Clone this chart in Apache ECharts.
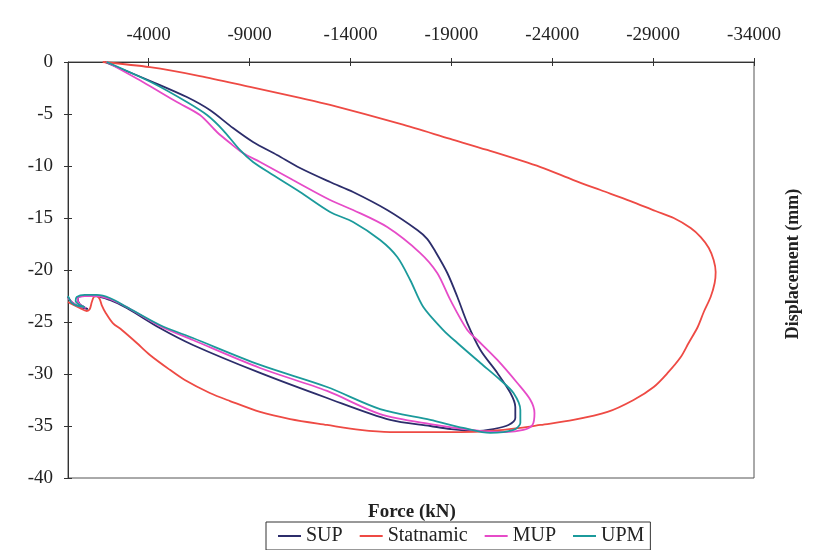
<!DOCTYPE html>
<html>
<head>
<meta charset="utf-8">
<script src="https://cdn.jsdelivr.net/npm/echarts@6/dist/echarts.min.js"></script>
<style>
  html, body { margin: 0; padding: 0; background: #fff; }
  #chart { width: 833px; height: 550px; }
</style>
</head>
<body>
<div id="chart"></div>
<script>
// axis ranges (force runs right to more negative)
const forceMin = -34000
const forceMax = 0
const forceStep = 5000
const dispMin = -40
const dispMax = 0
const dispStep = 5

const seriesNames = ['SUP', 'Statnamic', 'MUP', 'UPM']
const seriesColors = ['#2c2d6b', '#ee4a44', '#e64bc8', '#1b9a9b']

// [force kN, displacement mm] in time order
const supData = [
  [-1820, 0], [-4200, -1.92], [-5890, -3.37], [-7030, -4.62], [-8180, -6.35],
  [-9170, -7.69], [-10360, -8.94], [-11500, -10.19], [-12990, -11.54], [-14130, -12.5],
  [-15820, -14.23], [-17310, -16.15], [-17800, -17.0], [-18200, -18.2], [-18800, -20.29], [-19300, -22.6],
  [-19790, -25.1], [-20440, -27.69], [-21280, -29.9], [-21930, -31.83], [-22170, -33.17],
  [-22170, -34.23], [-21830, -34.9], [-21080, -35.29], [-20190, -35.48], [-18950, -35.29],
  [-17960, -35.0], [-15970, -34.42], [-12840, -32.31], [-9520, -29.9], [-6190, -27.21],
  [-4550, -25.58], [-2910, -23.65], [-2070, -22.88], [-1330, -22.5], [-680, -22.5],
  [-480, -22.69], [-580, -23.27], [-980, -23.75], [-580, -23.56], [-180, -23.08], [0, -22.6]
]

const statnamicData = [
  [-1720, 0], [-4060, -0.5], [-6540, -1.35], [-9020, -2.4], [-11500, -3.46],
  [-12990, -4.13], [-16470, -5.96], [-18950, -7.4], [-20780, -8.46], [-23420, -10.1],
  [-25050, -11.35], [-26390, -12.31], [-27880, -13.37], [-29120, -14.33], [-30020, -15.0],
  [-30860, -15.96], [-31360, -16.83], [-31760, -17.88], [-32000, -19.04], [-32100, -20.19],
  [-32050, -21.25], [-31850, -22.6], [-31510, -24.04], [-31210, -25.48], [-30760, -27.02],
  [-30370, -28.37], [-29720, -29.9], [-29030, -31.25], [-28030, -32.5], [-26740, -33.65],
  [-25050, -34.42], [-23420, -34.9], [-22420, -35.19], [-20930, -35.48], [-19440, -35.58],
  [-17960, -35.58], [-15970, -35.58], [-14480, -35.38], [-12840, -34.9], [-11010, -34.33],
  [-9520, -33.65], [-8030, -32.6], [-7030, -31.83], [-5790, -30.58], [-5050, -29.6],
  [-4060, -28.17], [-3410, -27.02], [-2670, -25.77], [-2220, -25.1], [-1870, -24.13],
  [-1670, -23.37], [-1570, -22.79], [-1430, -22.5], [-1280, -22.6], [-1180, -23.08],
  [-1080, -23.75], [-930, -23.94], [-580, -23.65], [-180, -23.27], [0, -23.08]
]

const mupData = [
  [-1920, 0], [-3710, -1.92], [-5400, -3.85], [-6540, -5.1], [-7380, -6.73],
  [-8030, -7.79], [-8670, -8.75], [-9520, -9.62], [-11150, -11.35], [-12990, -13.27],
  [-14130, -14.23], [-15820, -15.87], [-17460, -18.37], [-18300, -20.29], [-18950, -22.88],
  [-19790, -25.77], [-20290, -26.73], [-21280, -28.65], [-22270, -30.87], [-22920, -32.5],
  [-23120, -33.75], [-23020, -34.9], [-22570, -35.38], [-21680, -35.58], [-20440, -35.48],
  [-17960, -34.81], [-15470, -33.85], [-12840, -31.63], [-9520, -29.42], [-6190, -26.73],
  [-4550, -25.38], [-2910, -23.56], [-2070, -22.79], [-1430, -22.5], [-830, -22.5],
  [-480, -22.69], [-530, -23.17], [-880, -23.65], [-480, -23.46], [-180, -23.08], [0, -22.69]
]

const upmData = [
  [-1920, 0], [-4200, -2.02], [-5890, -3.85], [-6890, -5.1], [-7680, -6.54],
  [-8520, -8.46], [-9170, -9.62], [-10160, -10.87], [-11500, -12.5], [-12990, -14.42],
  [-14130, -15.38], [-15470, -17.12], [-16320, -18.75], [-16960, -20.96], [-17610, -23.56],
  [-18600, -25.77], [-19300, -27.02], [-20440, -28.94], [-21430, -30.58], [-22080, -31.83],
  [-22420, -33.46], [-22420, -34.71], [-22080, -35.38], [-20930, -35.67], [-19590, -35.19],
  [-17960, -34.42], [-15470, -33.37], [-12840, -31.25], [-9520, -29.13], [-6190, -26.54],
  [-4550, -25.29], [-2910, -23.56], [-2070, -22.69], [-1430, -22.4], [-830, -22.4],
  [-430, -22.6], [-380, -22.98], [-580, -23.37], [-830, -23.56], [-480, -23.46],
  [-180, -23.17], [0, -22.5]
]

const allData = [supData, statnamicData, mupData, upmData]

const serif = '"Liberation Serif", "DejaVu Serif", serif'
const axisColor = '#333'

const chart = echarts.init(document.getElementById('chart'), null, { renderer: 'canvas', width: 833, height: 550 })

const option = {
  animation: false,
  backgroundColor: '#fff',
  grid: {
    left: 68, top: 62, width: 686, height: 416,
    show: true, borderColor: '#555', borderWidth: 1, backgroundColor: 'transparent'
  },
  xAxis: [
    {
      type: 'value', position: 'top', inverse: true,
      min: forceMin, max: forceMax, interval: forceStep,
      axisLine: { show: true, lineStyle: { color: axisColor, width: 1 } },
      axisTick: { show: true, inside: false, length: 4, lineStyle: { color: axisColor } },
      axisLabel: {
        fontFamily: serif, fontSize: 19, color: '#222', margin: 17,
        showMaxLabel: false, formatter: v => String(v)
      },
      splitLine: { show: false }
    },
    {
      type: 'value', position: 'top', inverse: true,
      min: forceMin, max: forceMax, interval: forceStep,
      axisLine: { show: false },
      axisTick: { show: true, inside: true, length: 4, lineStyle: { color: axisColor } },
      axisLabel: { show: false },
      splitLine: { show: false }
    }
  ],
  yAxis: [
    {
      type: 'value', position: 'left',
      min: dispMin, max: dispMax, interval: dispStep,
      axisLine: { show: true, lineStyle: { color: axisColor, width: 1 } },
      axisTick: { show: true, inside: false, length: 4, lineStyle: { color: axisColor } },
      axisLabel: { fontFamily: serif, fontSize: 19, color: '#222', margin: 15 },
      splitLine: { show: false }
    },
    {
      type: 'value', position: 'left',
      min: dispMin, max: dispMax, interval: dispStep,
      axisLine: { show: false },
      axisTick: { show: true, inside: true, length: 4, lineStyle: { color: axisColor } },
      axisLabel: { show: false },
      splitLine: { show: false }
    }
  ],
  legend: {
    data: seriesNames,
    left: 266, top: 522,
    orient: 'horizontal',
    icon: 'rect', itemWidth: 23, itemHeight: 2, itemGap: 17,
    padding: [4, 6, 4, 12],
    borderColor: '#333', borderWidth: 1,
    textStyle: { fontFamily: serif, fontSize: 20, color: '#222' }
  },
  graphic: [
    {
      type: 'text', x: 412, y: 512,
      style: {
        text: 'Force (kN)', font: 'bold 19px ' + serif, fill: '#222',
        textAlign: 'center', textVerticalAlign: 'middle'
      }
    },
    {
      type: 'text', x: 793, y: 264, rotation: Math.PI / 2,
      style: {
        text: 'Displacement (mm)', font: 'bold 18px ' + serif, fill: '#222',
        textAlign: 'center', textVerticalAlign: 'middle'
      }
    }
  ],
  series: seriesNames.map((name, i) => ({
    name: name,
    type: 'line',
    data: allData[i],
    xAxisIndex: 0,
    yAxisIndex: 0,
    showSymbol: false,
    smooth: 0.3,
    color: seriesColors[i],
    lineStyle: { width: 1.8, color: seriesColors[i] }
  }))
}

chart.setOption(option)
</script>
</body>
</html>
